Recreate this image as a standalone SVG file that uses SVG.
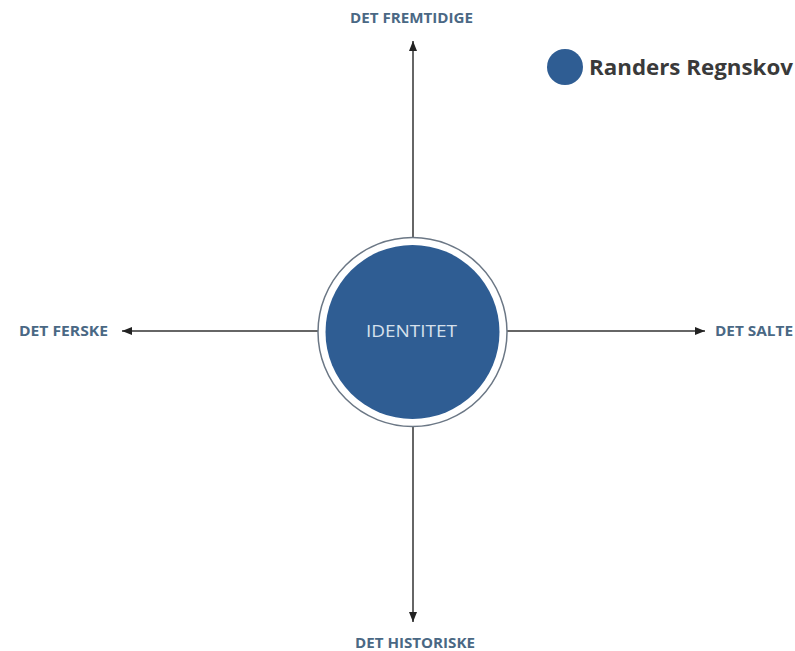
<svg xmlns="http://www.w3.org/2000/svg" width="795" height="651" viewBox="0 0 795 651">
<defs>
<marker id="ah" viewBox="0 0 10 10" refX="10" refY="5" markerWidth="10" markerHeight="10" markerUnits="userSpaceOnUse" orient="auto">
<path d="M0,1 L10,5 L0,9 Z" fill="#222"/>
</marker>
<style>
.lbl{font-family:"Open Sans","Liberation Sans",sans-serif;font-size:13.5px;font-weight:bold;fill:#4a6884;text-anchor:middle}
.ax{stroke:#333;stroke-width:1.5;fill:none}
</style>
</defs>
<rect width="795" height="651" fill="#ffffff"/>
<g id="connectors">
<line class="ax" x1="413" y1="237" x2="413" y2="41" marker-end="url(#ah)"/>
<line class="ax" x1="413" y1="427" x2="413" y2="622" marker-end="url(#ah)"/>
<line class="ax" x1="318" y1="331" x2="122" y2="331" marker-end="url(#ah)"/>
<line class="ax" x1="507" y1="331" x2="705" y2="331" marker-end="url(#ah)"/>
</g>
<g id="identitet">
<circle cx="412.5" cy="332" r="94.5" fill="#ffffff" stroke="#6b7785" stroke-width="1.5"/>
<circle cx="412.5" cy="332" r="87" fill="#2f5d93"/>
<text x="411.5" y="337" font-family="Open Sans, Liberation Sans, sans-serif" font-size="16" fill="#d6e0ec" text-anchor="middle" textLength="91" lengthAdjust="spacingAndGlyphs">IDENTITET</text>
</g>
<g id="fremtidige"><text class="lbl" x="411.5" y="23" textLength="123" lengthAdjust="spacingAndGlyphs">DET FREMTIDIGE</text></g>
<g id="ferske"><text class="lbl" x="63.5" y="336" textLength="89" lengthAdjust="spacingAndGlyphs">DET FERSKE</text></g>
<g id="salte"><text class="lbl" x="754" y="336" textLength="78" lengthAdjust="spacingAndGlyphs">DET SALTE</text></g>
<g id="historiske"><text class="lbl" x="415" y="648" textLength="120" lengthAdjust="spacingAndGlyphs">DET HISTORISKE</text></g>
<g id="legend">
<circle cx="565" cy="67" r="18" fill="#2f5d93"/>
<text x="589" y="75" font-family="Open Sans, Liberation Sans, sans-serif" font-size="22" font-weight="bold" fill="#3a3a3a" textLength="204" lengthAdjust="spacingAndGlyphs">Randers Regnskov</text>
</g>
</svg>
